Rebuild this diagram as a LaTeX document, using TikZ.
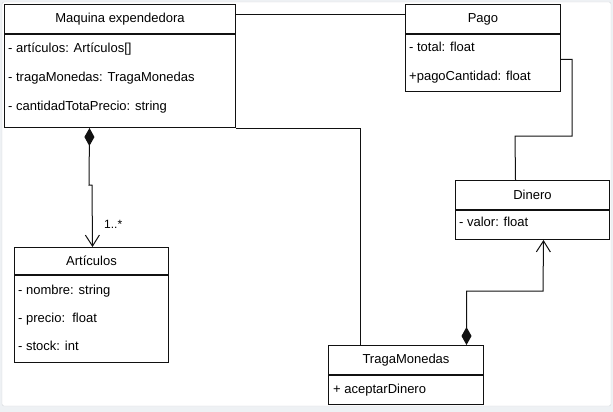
\documentclass[tikz,border=0pt]{standalone}
\usepackage{fontspec}
\setmainfont{Liberation Sans}
\usetikzlibrary{arrows.meta}
\definecolor{bgc}{HTML}{EEF1F4}
\definecolor{framec}{HTML}{D4D7DB}
\definecolor{linec}{HTML}{111111}
\begin{document}
\begin{tikzpicture}[x=1pt,y=-1pt,
  box/.style={draw=linec, line width=1pt, inner sep=0pt, anchor=north west,
    font=\fontsize{13}{15}\selectfont},
  row/.style={anchor=west, inner sep=0pt, text height=9.5pt, text depth=2.7pt,
    font=\fontsize{13}{15}\selectfont},
  conn/.style={draw=linec, line width=1pt},
  comp/.style={conn, {Diamond[length=18pt,width=10pt]}-{Straight Barb[length=11pt,width=14pt,line width=1pt]}},
]
\useasboundingbox (0,0) rectangle (613,412);
\fill[bgc] (0,0) rectangle (613,412);
\draw[framec, fill=white, rounded corners=2pt] (2,2) rectangle (611,406);

% Maquina expendedora
\node[box, minimum width=231pt, minimum height=29pt] (mqh) at (4,4) {Maquina expendedora};
\node[box, minimum width=231pt, minimum height=93pt] (mqb) at (mqh.south west) {};
\node[row] (mq1) at (8,49) {- artículos: Artículos[]};
\node[row] (mq2) at (8,78) {- tragaMonedas: TragaMonedas};
\node[row] (mq3) at (8,107) {- cantidadTotaPrecio: string};

% Pago
\node[box, minimum width=155pt, minimum height=29pt] (pgh) at (405,4) {Pago};
\node[box, minimum width=155pt, minimum height=57pt] (pgb) at (pgh.south west) {};
\node[row] (pg1) at (409,48) {- total: float};
\node[row] (pg2) at (409,77) {+pagoCantidad: float};

% Dinero
\node[box, minimum width=154pt, minimum height=29pt] (dnh) at (455,180) {Dinero};
\node[box, minimum width=154pt, minimum height=29pt] (dnb) at (dnh.south west) {};
\node[row] (dn1) at (459,223) {- valor: float};

% TragaMonedas
\node[box, minimum width=155pt, minimum height=29pt] (tgh) at (328,345) {TragaMonedas};
\node[box, minimum width=155pt, minimum height=29pt] (tgb) at (tgh.south west) {};
\node[row] (tg1) at (333,390) {+ aceptarDinero};

% Articulos
\node[box, minimum width=154pt, minimum height=27pt] (arh) at (14,247) {Artículos};
\node[box, minimum width=154pt, minimum height=87pt] (arb) at (arh.south west) {};
\node[row] (ar1) at (18,291) {- nombre: string};
\node[row] (ar2) at (18,319) {- precio:\ \ float};
\node[row] (ar3) at (18,347) {- stock: int};

% connectors
\draw[conn] ([yshift=-11pt]mqh.north east) -- ([yshift=-11pt]pgh.north west);
\draw[conn] (mqb.south east) -| ([xshift=-45.5pt]tgh.north);
\draw[conn] ([yshift=3.5pt]pgb.east) -- ++(11,0) |- (515,136) -- ([xshift=-17pt]dnh.north);
\draw[comp] ([xshift=-30.5pt]mqb.south) -- (89,185) -- (92,185) -- ([xshift=1pt]arh.north);
\node[row, font=\fontsize{12}{14}\selectfont] (mult) at (104,225) {1..*};
\draw[comp] ([xshift=60.5pt]tgh.north) |- (543,291) -- ([xshift=11pt]dnb.south);
\end{tikzpicture}
\end{document}
